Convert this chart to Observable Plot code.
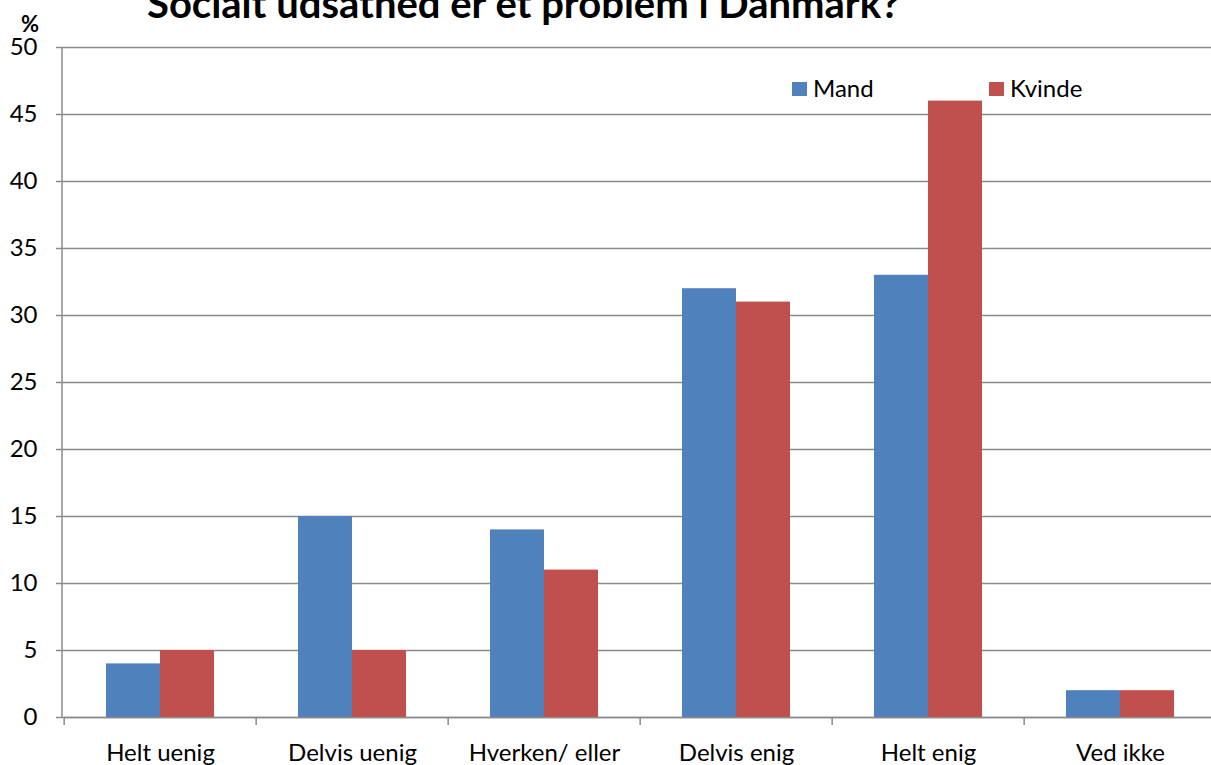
<!DOCTYPE html>
<html>
<head>
<meta charset="utf-8">
<script src="https://cdn.jsdelivr.net/npm/d3@7"></script>
<script src="https://cdn.jsdelivr.net/npm/@observablehq/plot@0.6"></script>
<style>
  html, body { margin: 0; padding: 0; background: #fff; overflow: hidden; }
  #wrap { position: relative; width: 1211px; height: 765px; overflow: hidden; background: #fff; font-family: Lato, "Liberation Sans", sans-serif; }
  #chart { position: absolute; left: 0; top: 0; width: 1218px; }
  #overlay { position: absolute; left: 0; top: 0; pointer-events: none; font-family: Lato, "Liberation Sans", sans-serif; }
</style>
</head>
<body>
<div id="wrap">
  <div id="chart"></div>
  <svg id="overlay" width="1211" height="765" xmlns="http://www.w3.org/2000/svg"></svg>
</div>
<script>
// ---- data ----
const titleText = "Socialt udsathed er et problem i Danmark?";
const unitText = "%";
const categories = ["Helt uenig", "Delvis uenig", "Hverken/ eller", "Delvis enig", "Helt enig", "Ved ikke"];
const series = ["Mand", "Kvinde"];
const mandValues = [4, 15, 14, 32, 33, 2];
const kvindeValues = [5, 5, 11, 31, 46, 2];
const yTicks = [0, 5, 10, 15, 20, 25, 30, 35, 40, 45, 50];
const colors = ["#4F81BD", "#C0504D"];

const rows = [];
categories.forEach((c, i) => {
  rows.push({cat: c, sex: series[0], value: mandValues[i]});
  rows.push({cat: c, sex: series[1], value: kvindeValues[i]});
});

// ---- layout ----
const W = 1218, H = 765, mL = 62, mR = 0, mT = 47, mB = 48;
const step = (W - mL - mR) / categories.length;
const gray = "#8a8a8a";

const plot = Plot.plot({
  width: W,
  height: H,
  marginLeft: mL,
  marginRight: mR,
  marginTop: mT,
  marginBottom: mB,
  style: {fontFamily: "Lato, 'Liberation Sans', sans-serif", fontSize: "24px", color: "#000", background: "transparent", overflow: "visible", maxWidth: "none"},
  fx: {domain: categories, padding: 0, label: null},
  x: {domain: series, paddingInner: 0, paddingOuter: 0.75, axis: null},
  y: {domain: [0, 50], label: null},
  color: {domain: series, range: colors},
  marks: [
    Plot.gridY(yTicks, {stroke: gray, strokeOpacity: 1, strokeWidth: 1.5}),
    Plot.barY(rows, {fx: "cat", x: "sex", y: "value", fill: "sex"}),
    Plot.ruleY([0], {stroke: gray, strokeWidth: 1.5}),
    Plot.axisY(yTicks, {tickSize: 8, tickPadding: 19, stroke: gray, strokeWidth: 1.5, fill: "#000", label: null}),
    Plot.axisFx({anchor: "bottom", tickSize: 0, tickPadding: 26, label: null, fill: "#000"}),
    Plot.axisFx({anchor: "bottom", tickSize: 8, text: null, dx: -step / 2, stroke: gray, strokeWidth: 1.5, label: null})
  ]
});
document.getElementById("chart").appendChild(plot);

// vertical axis line at the left edge of the plot frame
const ns = "http://www.w3.org/2000/svg";
const yScale = plot.scale("y");
const line = document.createElementNS(ns, "line");
line.setAttribute("x1", mL);
line.setAttribute("x2", mL);
line.setAttribute("y1", yScale.range[1]);
line.setAttribute("y2", yScale.range[0]);
line.setAttribute("stroke", gray);
line.setAttribute("stroke-width", 1.5);
plot.appendChild(line);

// overlay texts: title, unit, legend
const ov = document.getElementById("overlay");
function addText(str, x, y, size, weight, anchor) {
  const t = document.createElementNS(ns, "text");
  t.setAttribute("x", x);
  t.setAttribute("y", y);
  t.setAttribute("font-size", size);
  t.setAttribute("font-weight", weight);
  t.setAttribute("text-anchor", anchor);
  t.setAttribute("fill", "#000");
  t.textContent = str;
  ov.appendChild(t);
}
addText(titleText, 147, 18, 40, "bold", "start");
addText(unitText, 30, 31.5, 22, "bold", "middle");

const legX = [792, 989];
series.forEach((s, i) => {
  const r = document.createElementNS(ns, "rect");
  r.setAttribute("x", legX[i]);
  r.setAttribute("y", 82);
  r.setAttribute("width", 15);
  r.setAttribute("height", 14);
  r.setAttribute("fill", colors[i]);
  ov.appendChild(r);
  addText(s, legX[i] + 21, 97, 24, "normal", "start");
});
</script>
</body>
</html>
